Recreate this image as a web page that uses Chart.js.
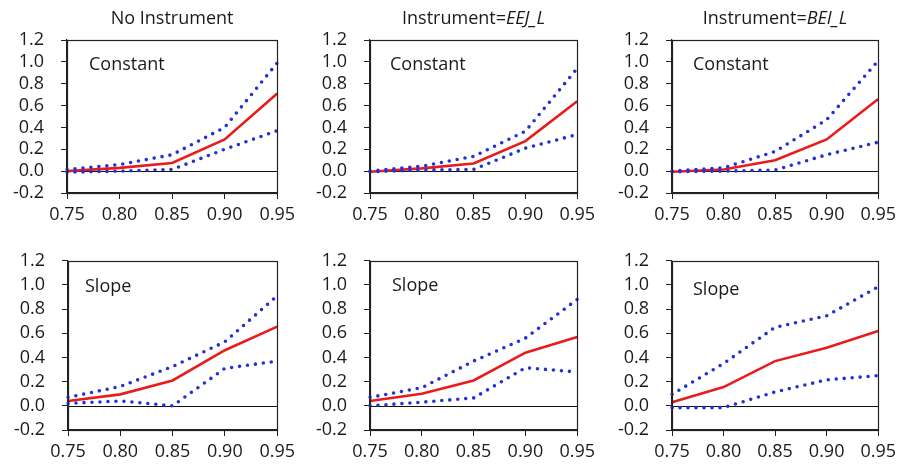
<!DOCTYPE html>
<html><head><meta charset="utf-8">
<script src="https://cdn.jsdelivr.net/npm/chart.js@4/dist/chart.umd.min.js"></script>
<style>
html,body{margin:0;padding:0;background:#fff;}
#wrap{position:relative;width:901px;height:466px;overflow:hidden;background:#fff;}
canvas{position:absolute;}
</style></head><body><div id="wrap"></div>
<script>
// ---- data ----
const thresholds = ['0.75','0.80','0.85','0.90','0.95'];
const yMin = -0.2, yMax = 1.2, yStep = 0.2;

const noInstConstEst   = [0.00, 0.03, 0.075, 0.29, 0.71];
const noInstConstUpper = [0.015, 0.06, 0.15, 0.40, 0.99];
const noInstConstLower = [-0.01, 0.00, 0.015, 0.20, 0.37];

const eejConstEst   = [-0.005, 0.025, 0.07, 0.275, 0.64];
const eejConstUpper = [0.00, 0.045, 0.135, 0.365, 0.94];
const eejConstLower = [-0.005, 0.01, 0.015, 0.21, 0.335];

const beiConstEst   = [-0.005, 0.015, 0.10, 0.29, 0.66];
const beiConstUpper = [0.00, 0.03, 0.18, 0.47, 1.01];
const beiConstLower = [-0.005, 0.00, 0.01, 0.15, 0.265];

const noInstSlopeEst   = [0.04, 0.095, 0.21, 0.46, 0.655];
const noInstSlopeUpper = [0.07, 0.16, 0.325, 0.53, 0.91];
const noInstSlopeLower = [0.02, 0.04, 0.00, 0.31, 0.37];

const eejSlopeEst   = [0.04, 0.10, 0.21, 0.44, 0.57];
const eejSlopeUpper = [0.07, 0.15, 0.37, 0.56, 0.88];
const eejSlopeLower = [0.00, 0.03, 0.065, 0.315, 0.28];

const beiSlopeEst   = [0.03, 0.155, 0.37, 0.48, 0.62];
const beiSlopeUpper = [0.095, 0.35, 0.65, 0.745, 0.985];
const beiSlopeLower = [-0.015, -0.015, 0.115, 0.215, 0.25];

// ---- panels ----
const FONT = '"Open Sans", "Noto Sans", sans-serif';
const FS = 18;
const TXT = '#1a1a1a';
const RED = 'rgb(232,28,28)';
const BLUE = 'rgb(36,50,210)';

const panels = [
  {left:0,   top:0,   w:300, h:233, title:[['No Instrument',false]], label:'Constant', lx:22, ly:25,
   est:noInstConstEst, up:noInstConstUpper, lo:noInstConstLower, pad:{left:0,right:21,top:40,bottom:0}, yW:67, xH:40},
  {left:300, top:0,   w:300, h:233, title:[['Instrument=',false],['EEJ_L',true]], label:'Constant', lx:20, ly:25,
   est:eejConstEst, up:eejConstUpper, lo:eejConstLower, pad:{left:0,right:18,top:40,bottom:0}, yW:70, xH:40},
  {left:600, top:0,   w:301, h:233, title:[['Instrument=',false],['BEI_L',true]], label:'Constant', lx:21, ly:25,
   est:beiConstEst, up:beiConstUpper, lo:beiConstLower, pad:{left:0,right:17,top:40,bottom:0}, yW:72, xH:40},
  {left:0,   top:233, w:300, h:233, title:null, label:'Slope', lx:17, ly:26,
   est:noInstSlopeEst, up:noInstSlopeUpper, lo:noInstSlopeLower, pad:{left:0,right:17,top:24,bottom:0}, yW:68, xH:36},
  {left:300, top:233, w:300, h:233, title:null, label:'Slope', lx:22, ly:25,
   est:eejSlopeEst, up:eejSlopeUpper, lo:eejSlopeLower, pad:{left:0,right:14,top:24,bottom:0}, yW:70, xH:36},
  {left:600, top:233, w:301, h:233, title:null, label:'Slope', lx:21, ly:29,
   est:beiSlopeEst, up:beiSlopeUpper, lo:beiSlopeLower, pad:{left:0,right:16,top:24,bottom:0}, yW:72, xH:36}
];

const framePlugin = {
  id:'frame',
  beforeDatasetsDraw(chart, args, opts){
    const {ctx, chartArea:a, scales:{y}} = chart;
    ctx.save();
    const y0 = Math.round(y.getPixelForValue(0)) + 0.5;
    ctx.strokeStyle = '#111'; ctx.lineWidth = 1.2;
    ctx.beginPath(); ctx.moveTo(a.left, y0); ctx.lineTo(a.right, y0); ctx.stroke();
    ctx.restore();
  },
  afterDraw(chart, args, opts){
    const {ctx, chartArea:a} = chart;
    ctx.save();
    ctx.strokeStyle = '#222'; ctx.lineWidth = 1.2;
    ctx.strokeRect(Math.round(a.left)+0.5, Math.round(a.top)+0.5, Math.round(a.right-a.left), Math.round(a.bottom-a.top));
    ctx.fillStyle = TXT; ctx.textBaseline = 'middle'; ctx.textAlign = 'left';
    ctx.font = FS + 'px ' + FONT;
    ctx.fillText(opts.label, a.left + opts.lx, a.top + opts.ly);
    if (opts.title) {
      let total = 0;
      const parts = opts.title.map(([t, it]) => {
        ctx.font = (it ? 'italic ' : '') + FS + 'px ' + FONT;
        const w = ctx.measureText(t).width; total += w; return [t, it, w];
      });
      let x = (a.left + a.right) / 2 - total / 2;
      parts.forEach(([t, it, w]) => {
        ctx.font = (it ? 'italic ' : '') + FS + 'px ' + FONT;
        ctx.fillText(t, x, 19); x += w;
      });
    }
    ctx.restore();
  }
};

panels.forEach((p, i) => {
  const cv = document.createElement('canvas');
  cv.width = p.w; cv.height = p.h;
  cv.style.left = p.left + 'px'; cv.style.top = p.top + 'px';
  cv.style.width = p.w + 'px'; cv.style.height = p.h + 'px';
  document.getElementById('wrap').appendChild(cv);
  const dotted = (data, name) => ({
    label:name, data, borderColor:BLUE, backgroundColor:BLUE, borderWidth:3.6,
    borderDash:[0, 8], borderCapStyle:'round', pointRadius:0, tension:0, fill:false
  });
  new Chart(cv, {
    type:'line',
    data:{
      labels: thresholds,
      datasets:[
        dotted(p.up, 'Upper bound'),
        dotted(p.lo, 'Lower bound'),
        {label:'Estimate', data:p.est, borderColor:RED, backgroundColor:RED, borderWidth:2.6, pointRadius:0, tension:0, fill:false}
      ]
    },
    options:{
      responsive:false, animation:false, devicePixelRatio:1,
      layout:{padding:p.pad},
      plugins:{legend:{display:false}, tooltip:{enabled:false},
        frame:{label:p.label, lx:p.lx, ly:p.ly, title:p.title}},
      scales:{
        x:{type:'category', offset:false,
          grid:{drawOnChartArea:false, drawTicks:true, tickLength:6, color:'#222'},
          border:{display:true, color:'#222', width:1.2},
          ticks:{font:{family:FONT, size:FS}, color:TXT, padding:5, maxRotation:0, autoSkip:false},
          afterFit(s){ s.height = p.xH; }
        },
        y:{type:'linear', min:yMin, max:yMax,
          grid:{drawOnChartArea:false, drawTicks:true, tickLength:6, color:'#222'},
          border:{display:true, color:'#222', width:1.2},
          ticks:{stepSize:yStep, autoSkip:false, font:{family:FONT, size:FS}, color:TXT, padding:17,
            callback:(v)=> (Math.abs(v) < 1e-9 ? 0 : v).toFixed(1)},
          afterFit(s){ s.width = p.yW; }
        }
      }
    },
    plugins:[framePlugin]
  });
});
</script></body></html>
